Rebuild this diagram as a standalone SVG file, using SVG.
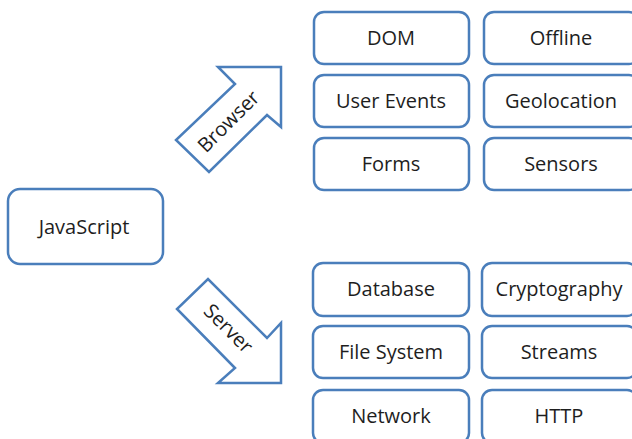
<svg xmlns="http://www.w3.org/2000/svg" width="632" height="439" viewBox="0 0 632 439">
<style>
.box{fill:#fff;stroke:#4a7ebb;stroke-width:2.5}
.arr{fill:#fff;stroke:#4a7ebb;stroke-width:2.5;stroke-linejoin:miter}
text{font-family:"Open Sans","Liberation Sans",sans-serif;font-size:20px;fill:#1e1e1e;text-anchor:middle;dominant-baseline:central}
</style>
<rect width="632" height="439" fill="#fff"/>
<g id="javascript"><rect class="box" x="8" y="189" width="155" height="75" rx="12"/><text x="84" y="226">JavaScript</text></g>
<g id="connectors">
<g id="browser-arrow"><polygon class="arr" points="281,67 218,67 235,84 176,140 209,172 267,115 281,127"/><text x="228" y="121" transform="rotate(-45 228 121)" style="font-size:20px">Browser</text></g>
<g id="server-arrow"><polygon class="arr" points="281,383 218,383 235,368 177,309 208,279 267,338 281,323"/><text x="229" y="328" transform="rotate(45 229 328)" style="font-size:20px">Server</text></g>
</g>
<g id="dom"><rect class="box" x="314" y="12" width="155" height="52" rx="10"/><text x="391" y="37">DOM</text></g>
<g id="offline"><rect class="box" x="484" y="12" width="155" height="52" rx="10"/><text x="561" y="37">Offline</text></g>
<g id="user-events"><rect class="box" x="314" y="75" width="155" height="52" rx="10"/><text x="391" y="100">User Events</text></g>
<g id="geolocation"><rect class="box" x="484" y="75" width="155" height="52" rx="10"/><text x="561" y="100">Geolocation</text></g>
<g id="forms"><rect class="box" x="314" y="138" width="155" height="52" rx="10"/><text x="391" y="163">Forms</text></g>
<g id="sensors"><rect class="box" x="484" y="138" width="155" height="52" rx="10"/><text x="561" y="163">Sensors</text></g>
<g id="database"><rect class="box" x="313" y="263" width="156" height="53" rx="10"/><text x="391" y="288">Database</text></g>
<g id="cryptography"><rect class="box" x="482" y="263" width="155" height="53" rx="10"/><text x="559" y="288">Cryptography</text></g>
<g id="file-system"><rect class="box" x="313" y="326" width="156" height="52" rx="10"/><text x="391" y="351">File System</text></g>
<g id="streams"><rect class="box" x="482" y="326" width="155" height="52" rx="10"/><text x="559" y="351">Streams</text></g>
<g id="network"><rect class="box" x="313" y="390" width="156" height="53" rx="10"/><text x="391" y="415">Network</text></g>
<g id="http"><rect class="box" x="482" y="390" width="155" height="53" rx="10"/><text x="559" y="415">HTTP</text></g>
</svg>
